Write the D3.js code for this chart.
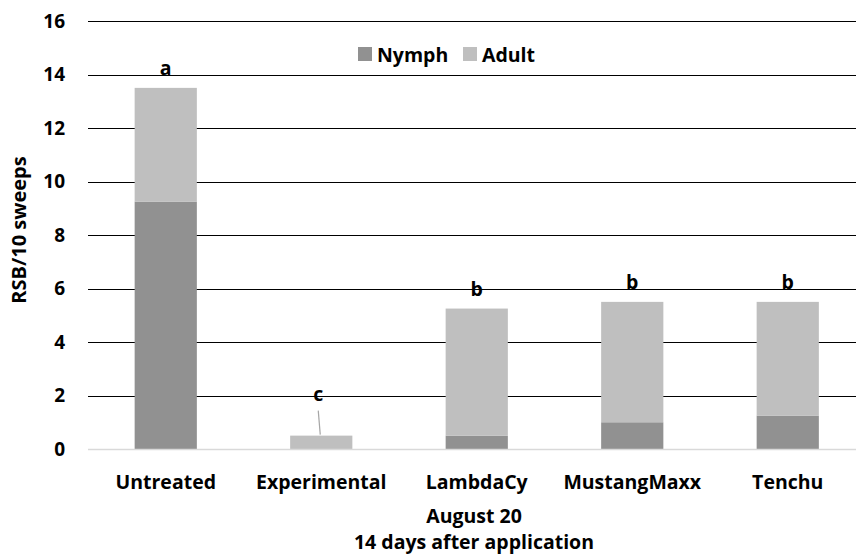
<!DOCTYPE html>
<html><head><meta charset="utf-8">
<script src="https://cdn.jsdelivr.net/npm/d3@7/dist/d3.min.js"></script>
<style>
html,body{margin:0;padding:0;background:#fff;}
svg{display:block;font-family:"Open Sans",sans-serif;font-weight:bold;}
</style></head>
<body><svg id="c" width="856" height="560"></svg>
<script>
const categories = ["Untreated","Experimental","LambdaCy","MustangMaxx","Tenchu"];
const nymph = [9.25, 0, 0.5, 1.0, 1.25];
const adult = [4.25, 0.5, 4.75, 4.5, 4.25];
const letters = ["a","c","b","b","b"];
const yTicks = [0,2,4,6,8,10,12,14,16];
const seriesNames = ["Nymph","Adult"];
const colors = {Nymph:"#919191", Adult:"#bfbfbf"};

const svg = d3.select("#c");
const pLeft = 88, pRight = 865.5, pTop = 21, pBottom = 449;
const x = d3.scaleBand().domain(categories).range([pLeft, pRight]).padding(0);
const y = d3.scaleLinear().domain([0,16]).range([pBottom, pTop]);
const FS = 19.5;

// gridlines
svg.append("g").selectAll("line").data(yTicks.filter(d=>d>0)).join("line")
  .attr("x1", pLeft).attr("x2", 856)
  .attr("y1", d=>Math.round(y(d))+0.5).attr("y2", d=>Math.round(y(d))+0.5)
  .attr("stroke", "#000").attr("stroke-width", 1.2);

// y axis labels
const yAxis = d3.axisLeft(y).tickValues(yTicks).tickSize(0).tickPadding(0).tickFormat(d3.format("d"));
const ga = svg.append("g").attr("transform", `translate(${pLeft-23},0)`).call(yAxis);
ga.select(".domain").remove();
ga.selectAll("text").attr("font-size", 19).attr("font-family","Open Sans").attr("font-weight","bold").attr("fill","#000");

// stacked data
const rows = categories.map((c,i)=>({cat:c, Nymph:nymph[i], Adult:adult[i]}));
const stack = d3.stack().keys(seriesNames)(rows);
const bw = x.bandwidth()*0.4;
svg.append("g").selectAll("g").data(stack).join("g").attr("fill", d=>colors[d.key])
  .selectAll("rect").data(d=>d).join("rect")
  .attr("x", d=>x(d.data.cat)+(x.bandwidth()-bw)/2)
  .attr("width", bw)
  .attr("y", d=>y(d[1]))
  .attr("height", d=>Math.max(0, y(d[0])-y(d[1])));

// baseline
svg.append("line").attr("x1", pLeft).attr("x2", 856).attr("y1", pBottom+0.5).attr("y2", pBottom+0.5)
  .attr("stroke", "#d9d9d9").attr("stroke-width", 1.5);

// category labels
svg.append("g").selectAll("text").data(categories).join("text")
  .attr("x", d=>x(d)+x.bandwidth()/2).attr("y", 489)
  .attr("text-anchor","middle").attr("font-size",FS).text(d=>d);

// significance letters
rows.forEach((r,i)=>{
  const cx = x(r.cat)+x.bandwidth()/2;
  const topY = y(r.Nymph + r.Adult);
  if (letters[i]==="c") {
    svg.append("line").attr("x1", cx-3).attr("y1", topY-25).attr("x2", cx-1).attr("y2", topY-1)
      .attr("stroke","#a6a6a6").attr("stroke-width",1.2);
    svg.append("text").attr("x", cx-3).attr("y", topY-35).attr("text-anchor","middle")
      .attr("font-size",FS).text(letters[i]);
  } else {
    svg.append("text").attr("x", cx).attr("y", topY-13).attr("text-anchor","middle")
      .attr("font-size",FS).text(letters[i]);
  }
});

// legend
const lg = svg.append("g");
const legX = [358, 463];
seriesNames.forEach((s,i)=>{
  lg.append("rect").attr("x", legX[i]).attr("y", 47).attr("width", 14).attr("height", 14).attr("fill", colors[s]);
  lg.append("text").attr("x", legX[i]+19).attr("y", 61.5).attr("font-size",FS).text(s);
});

// axis titles
svg.append("text").attr("transform","translate(26,230) rotate(-90)").attr("text-anchor","middle")
  .attr("font-size",20).text("RSB/10 sweeps");
svg.append("text").attr("x",474).attr("y",523).attr("text-anchor","middle").attr("font-size",FS).text("August 20");
svg.append("text").attr("x",474).attr("y",549).attr("text-anchor","middle").attr("font-size",FS).text("14 days after application");
</script></body></html>
